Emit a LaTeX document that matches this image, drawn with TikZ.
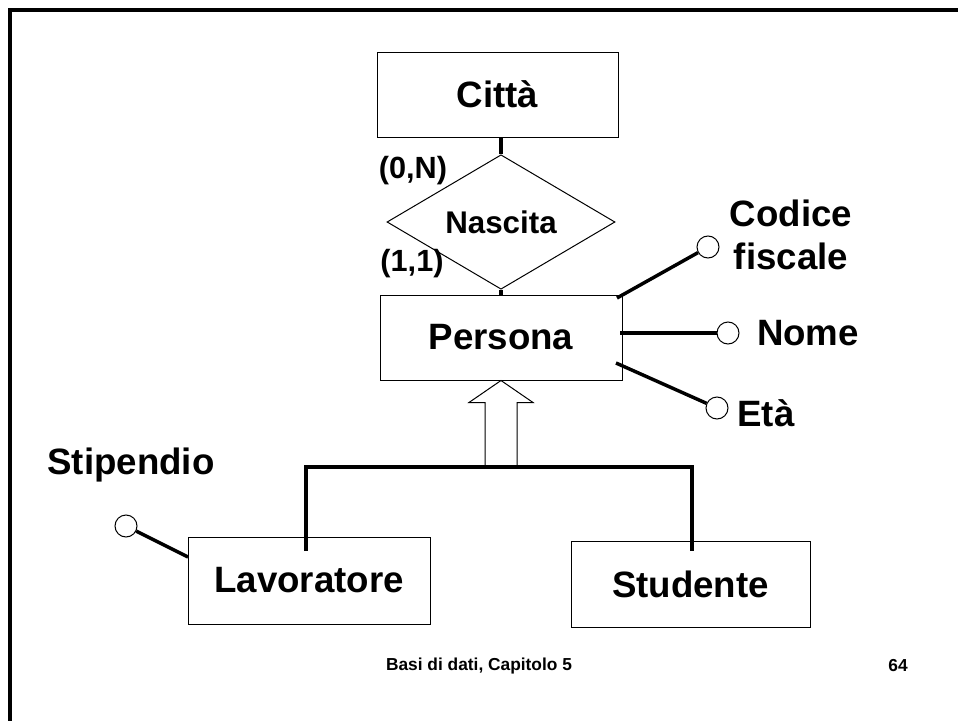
\documentclass[tikz,border=0pt]{standalone}
\usepackage{fontspec}
\setmainfont{Liberation Sans}
\usetikzlibrary{shapes.geometric}
\begin{document}
\begin{tikzpicture}[x=0.75pt,y=-0.75pt,
  entity/.style={draw,line width=0.75pt,inner sep=0pt,font=\fontsize{27.5}{32}\selectfont\bfseries},
  rel/.style={diamond,draw,line width=0.75pt,minimum width=171pt,minimum height=75pt,inner sep=0pt,font=\fontsize{23.5}{27}\selectfont\bfseries},
  attr/.style={circle,draw,line width=0.75pt,fill=white,minimum size=16.5pt,inner sep=0pt},
  lbl/.style={font=\fontsize{27.5}{32}\selectfont\bfseries,inner sep=0pt,align=center},
  card/.style={font=\fontsize{23}{27}\selectfont\bfseries,inner sep=0pt},
  conn/.style={line width=2.6pt},
  foot/.style={font=\fontsize{13}{15}\selectfont\bfseries,inner sep=0pt}]
\useasboundingbox (0,0) rectangle (958,721);
% frame
\draw[line width=2.4pt,line join=miter] (10,725) -- (10,10) -- (962,10);

% entities
\node[entity,minimum width=180.75pt,minimum height=63.75pt] (citta) at (497.5,94.5) {Città};
\node[entity,minimum width=181.5pt,minimum height=63.75pt] (persona) at (501,337.5) {Persona};
\node[entity,minimum width=181.5pt,minimum height=65.25pt] (lavoratore) at (309,580.5) {Lavoratore};
\node[entity,minimum width=179.25pt,minimum height=64.5pt] (studente) at (690.5,584) {Studente};

% relationship
\node[rel] (nascita) at (501,222) {Nascita};
\draw[conn] (nascita.north) -- (nascita.north |- citta.south);
\draw[conn] (nascita.south) -- (nascita.south |- persona.north);
\node[card] (card1) at (413,171) {(0,N)};
\node[card] (card2) at (412,264) {(1,1)};

% generalization arrow
\draw[line width=0.75pt,fill=white] (persona.south) -- ++(32,22) -- ++(-16,0) -- ++(0,64)
  -- ++(-32,0) -- ++(0,-64) -- ++(-16,0) -- cycle;
\coordinate (hub) at (501,467);
\coordinate (lavtop) at (306,551);
\coordinate (stutop) at (692,551);
\draw[conn,line join=miter] (lavtop) -- (lavtop |- hub) -- (stutop |- hub) -- (stutop);

% attributes
\node[attr] (cf) at (708,247) {};
\node[attr] (nome) at (728,333) {};
\node[attr] (eta) at (717,408) {};
\node[attr] (stip) at (126,526) {};
\coordinate (cfin) at (617,298);
\coordinate (nomein) at (620,333);
\coordinate (etain) at (616,363);
\coordinate (stipin) at (188,557);
\draw[conn] (cfin) -- (cf);
\draw[conn] (nomein) -- (nome);
\draw[conn] (etain) -- (eta);
\draw[conn] (stipin) -- (stip);

\node[lbl] (cflbl) at (791,235) {Codice\\fiscale};
\node[lbl] (nomelbl) at (808,333) {Nome};
\node[lbl] (etalbl) at (766,413) {Età};
\node[lbl] (stiplbl) at (131,465) {Stipendio};

% footer
\node[foot] (foot1) at (479,666) {Basi di dati, Capitolo 5};
\node[foot] (foot2) at (898,666) {64};
\end{tikzpicture}
\end{document}
